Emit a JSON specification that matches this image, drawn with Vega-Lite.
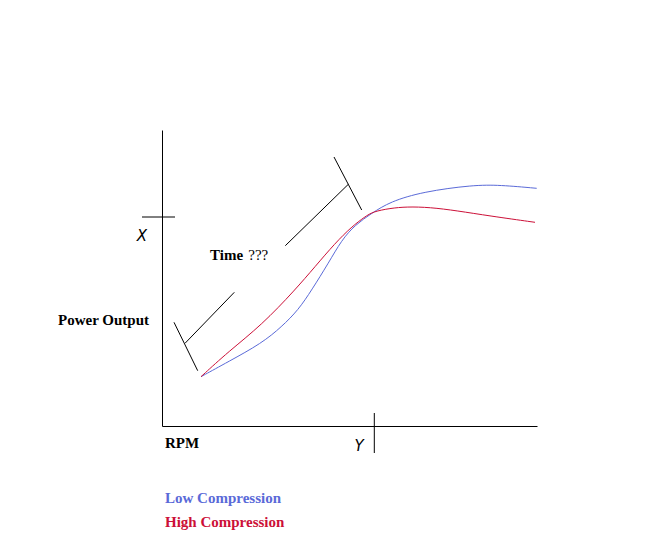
{
  "$schema": "https://vega.github.io/schema/vega-lite/v6.json",
  "background": "white",
  "width": 375,
  "height": 296,
  "autosize": "none",
  "padding": {"left": 162, "top": 130, "right": 114, "bottom": 125},
  "view": {"stroke": null},
  "datasets": {
    "curves": [
      {"series": "Low Compression", "rpm": 39, "power": 49.3},
      {"series": "Low Compression", "rpm": 66.3, "power": 64.3},
      {"series": "Low Compression", "rpm": 99.7, "power": 82.7},
      {"series": "Low Compression", "rpm": 119.7, "power": 99.3},
      {"series": "Low Compression", "rpm": 136.3, "power": 116},
      {"series": "Low Compression", "rpm": 149.7, "power": 136},
      {"series": "Low Compression", "rpm": 166.3, "power": 162.7},
      {"series": "Low Compression", "rpm": 179.7, "power": 186},
      {"series": "Low Compression", "rpm": 193, "power": 201},
      {"series": "Low Compression", "rpm": 209.7, "power": 212.7},
      {"series": "Low Compression", "rpm": 228, "power": 224.3},
      {"series": "Low Compression", "rpm": 261, "power": 234.3},
      {"series": "Low Compression", "rpm": 311, "power": 241},
      {"series": "Low Compression", "rpm": 338, "power": 241},
      {"series": "Low Compression", "rpm": 374.7, "power": 237.7},
      {"series": "High Compression", "rpm": 39, "power": 49.3},
      {"series": "High Compression", "rpm": 66.3, "power": 74.3},
      {"series": "High Compression", "rpm": 99.7, "power": 101},
      {"series": "High Compression", "rpm": 133, "power": 136},
      {"series": "High Compression", "rpm": 153, "power": 159.3},
      {"series": "High Compression", "rpm": 173, "power": 182.7},
      {"series": "High Compression", "rpm": 189.7, "power": 199.3},
      {"series": "High Compression", "rpm": 203, "power": 209.3},
      {"series": "High Compression", "rpm": 211, "power": 214.3},
      {"series": "High Compression", "rpm": 228, "power": 217.7},
      {"series": "High Compression", "rpm": 244.7, "power": 219.3},
      {"series": "High Compression", "rpm": 268, "power": 218.7},
      {"series": "High Compression", "rpm": 294.7, "power": 215.3},
      {"series": "High Compression", "rpm": 328, "power": 210},
      {"series": "High Compression", "rpm": 373, "power": 203.7}
    ],
    "strokes": [
      {"x": 172, "y": 269, "x2": 199.7, "y2": 216},
      {"x": 123.3, "y": 180.3, "x2": 186.3, "y2": 241.7},
      {"x": 12, "y": 103.7, "x2": 35.7, "y2": 55.3},
      {"x": 23, "y": 82.7, "x2": 72.3, "y2": 133.7},
      {"x": -20, "y": 209, "x2": 13, "y2": 209},
      {"x": 212.3, "y": 13, "x2": 212.3, "y2": -27}
    ],
    "bold": [
      {"label": "Power Output", "x": -104, "y": 101},
      {"label": "RPM", "x": 3, "y": -21.7},
      {"label": "Time", "x": 48, "y": 166}
    ],
    "plain": [
      {"label": "???", "x": 86.3, "y": 166}
    ],
    "marks": [
      {"label": "X", "x": -20, "y": 190.5},
      {"label": "Y", "x": 197, "y": -20}
    ],
    "legend": [
      {"label": "Low Compression", "x": 3, "y": -76.7},
      {"label": "High Compression", "x": 3, "y": -100.7}
    ]
  },
  "layer": [
    {
      "data": {"name": "curves"},
      "mark": {"type": "line", "interpolate": "basis", "strokeWidth": 1},
      "encoding": {
        "x": {
          "field": "rpm",
          "type": "quantitative",
          "scale": {"domain": [0, 375], "nice": false, "zero": false},
          "axis": {"labels": false, "ticks": false, "title": null, "grid": false, "domainColor": "black", "domainWidth": 1}
        },
        "y": {
          "field": "power",
          "type": "quantitative",
          "scale": {"domain": [0, 296], "nice": false, "zero": false},
          "axis": {"labels": false, "ticks": false, "title": null, "grid": false, "domainColor": "black", "domainWidth": 1}
        },
        "color": {
          "field": "series",
          "type": "nominal",
          "scale": {"domain": ["Low Compression", "High Compression"], "range": ["#5a6ad8", "#cc1038"]},
          "legend": null
        },
        "order": {"field": "rpm", "type": "quantitative"}
      }
    },
    {
      "data": {"name": "strokes"},
      "mark": {"type": "rule", "color": "black", "strokeWidth": 1},
      "encoding": {
        "x": {"field": "x", "type": "quantitative"},
        "y": {"field": "y", "type": "quantitative"},
        "x2": {"field": "x2"},
        "y2": {"field": "y2"}
      }
    },
    {
      "data": {"name": "bold"},
      "mark": {"type": "text", "font": "Liberation Serif", "fontWeight": "bold", "fontSize": 15, "align": "left", "baseline": "alphabetic", "color": "black"},
      "encoding": {
        "x": {"field": "x", "type": "quantitative"},
        "y": {"field": "y", "type": "quantitative"},
        "text": {"field": "label"}
      }
    },
    {
      "data": {"name": "plain"},
      "mark": {"type": "text", "font": "Liberation Serif", "fontSize": 15, "align": "left", "baseline": "alphabetic", "color": "black"},
      "encoding": {
        "x": {"field": "x", "type": "quantitative"},
        "y": {"field": "y", "type": "quantitative"},
        "text": {"field": "label"}
      }
    },
    {
      "data": {"name": "marks"},
      "mark": {"type": "text", "font": "DejaVu Sans", "fontStyle": "italic", "fontSize": 15, "align": "center", "baseline": "middle", "color": "black"},
      "encoding": {
        "x": {"field": "x", "type": "quantitative"},
        "y": {"field": "y", "type": "quantitative"},
        "text": {"field": "label"}
      }
    },
    {
      "data": {"name": "legend"},
      "mark": {"type": "text", "font": "Liberation Serif", "fontWeight": "bold", "fontSize": 15, "align": "left", "baseline": "alphabetic"},
      "encoding": {
        "x": {"field": "x", "type": "quantitative"},
        "y": {"field": "y", "type": "quantitative"},
        "text": {"field": "label"},
        "color": {
          "field": "label",
          "type": "nominal",
          "scale": {"domain": ["Low Compression", "High Compression"], "range": ["#4e62e0", "#d01028"]},
          "legend": null
        }
      }
    }
  ]
}
